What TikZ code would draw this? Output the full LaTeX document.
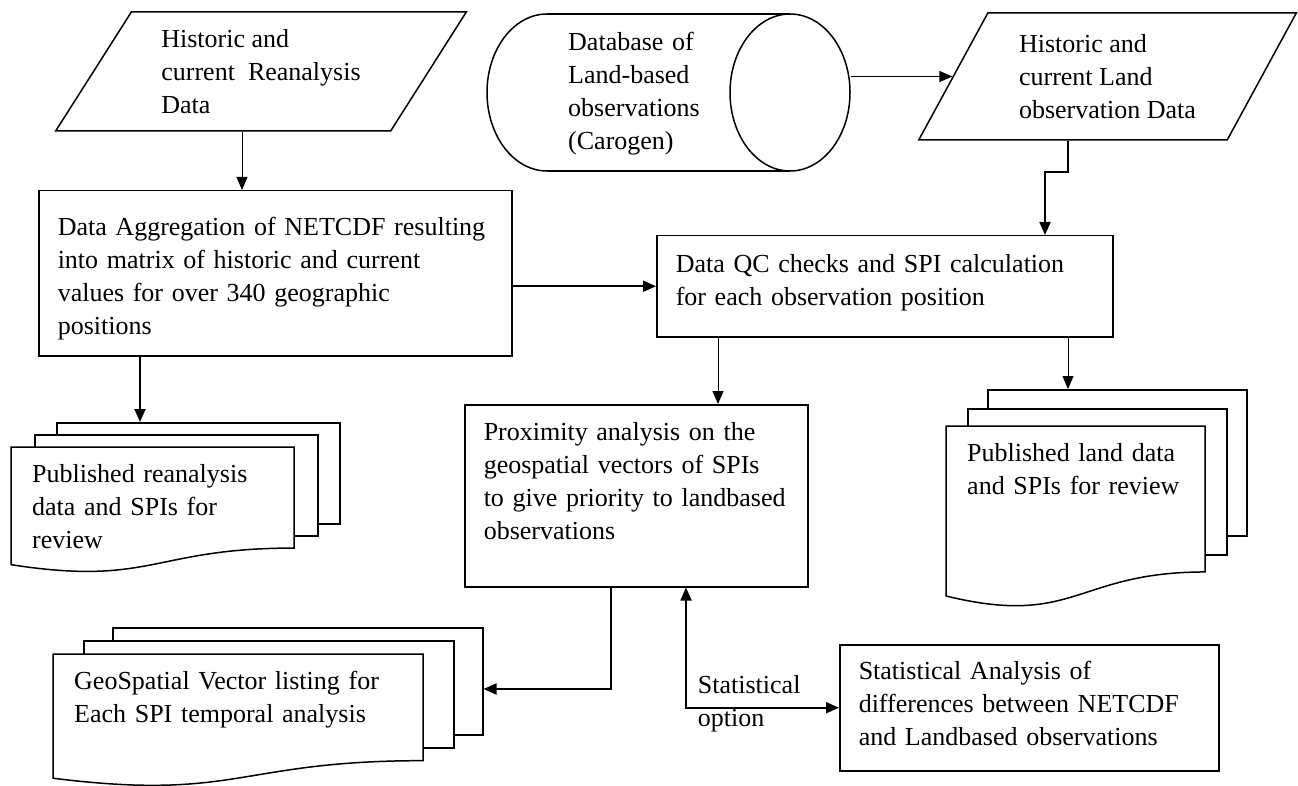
\documentclass[tikz,border=0pt]{standalone}
\usepackage{fontspec}
\setmainfont{Liberation Serif}
\usetikzlibrary{shapes.geometric,arrows.meta}
\newcommand{\fs}{\fontsize{26pt}{33pt}\selectfont}
%front sheet of a document stack: left, top, width, height
\newcommand{\docfront}[4]{%
	\draw[line width=1.5pt, fill=white] (#1,#2) -- (#1+#3,#2) -- (#1+#3,#2+0.802*#4)
	.. controls (#1+0.5*#3,#2+0.802*#4) and (#1+0.5*#3,#2+1.1075*#4) .. (#1,#2+0.934*#4) -- cycle;}
\tikzset{
	proc/.style={draw, line width=1.5pt, anchor=north west, align=left, inner xsep=19pt, text height=18pt},
	inout/.style={draw, line width=1.5pt, trapezium, trapezium stretches=true, inner sep=0pt, align=left},
	page/.style={draw, fill=white, line width=1.5pt, anchor=north west, inner sep=0pt},
	doctext/.style={anchor=north west, align=left, inner xsep=21pt, inner ysep=17pt, text height=18pt},
	arr/.style={-{Triangle[length=13pt,width=11pt]}, line width=1pt},
	arrb/.style={arr, line width=1.8pt},
}
\begin{document}
\begin{tikzpicture}[x=1pt, y=-1pt, every node/.style={font=\fs}]
	\useasboundingbox (0,0) rectangle (1298,786);
	%%%nodes
	%inputs
	\node[inout, trapezium left angle=55.4, trapezium right angle=124.6, minimum width=412pt, minimum height=119pt] at (261,71.5) (p1) {Historic and\\current\ \ Reanalysis\\Data};
	\node[inout, trapezium left angle=58.8, trapezium right angle=121.2, minimum width=379pt, minimum height=127pt] at (1107.5,76.5) (p2) {Historic and\\current Land\\observation Data};
	%database drum
	\draw[line width=1.5pt, fill=white] (547,92.5) ellipse [x radius=60, y radius=78.5];
	\fill[white] (547,14) rectangle (790,171);
	\draw[line width=1.5pt] (547,14) -- (790,14) (547,171) -- (790,171);
	\node[draw, line width=1.5pt, ellipse, inner sep=0pt, minimum width=120pt, minimum height=157pt] at (790,92.5) (drum) {};
	\node[anchor=north west, align=left, inner sep=0pt, text height=18pt, text width=150pt] at (568,32) (dbtext) {Database of\\Land-based\\observations\\(Carogen)};
	%process boxes
	\node[proc, inner ysep=27pt, text width=435pt, text depth=93pt] at (38,190) (agg) {Data Aggregation of NETCDF resulting\\into matrix of historic and current\\values for over 340 geographic\\positions};
	\node[proc, inner ysep=19pt, text width=418pt, text depth=45pt] at (656,235) (qc) {Data QC checks and SPI calculation\\for each observation position};
	\node[proc, inner ysep=18pt, text width=305pt, text depth=128pt] at (464,404) (prox) {Proximity analysis on the\\geospatial vectors of SPIs\\to give priority to landbased\\observations};
	\node[proc, inner ysep=17pt, text width=341pt, text depth=74pt] at (839,644) (stats) {Statistical Analysis of\\differences between NETCDF\\and Landbased observations};
	%document stacks
	\node[page, minimum width=283pt, minimum height=101pt] at (56,422) (rean3) {};
	\node[page, minimum width=283pt, minimum height=101pt] at (34,434) (rean2) {};
	\docfront{11}{447}{283}{126}
	\node[doctext, text width=260pt] at (11,447) (rean1) {Published reanalysis\\data and SPIs for\\review};
	\node[page, minimum width=259pt, minimum height=146pt] at (987,389) (land3) {};
	\node[page, minimum width=259pt, minimum height=146pt] at (967,408) (land2) {};
	\docfront{946}{426}{259}{182}
	\node[doctext, text width=240pt] at (946,426) (land1) {Published land data\\and SPIs for review};
	\node[page, minimum width=370pt, minimum height=107pt] at (112,627) (geo3) {};
	\node[page, minimum width=370pt, minimum height=107pt] at (83,640) (geo2) {};
	\docfront{53}{654}{370}{133}
	\node[doctext, text width=345pt] at (53,654) (geo1) {GeoSpatial Vector listing for\\Each SPI temporal analysis};
	%%%links
	\draw[arr] (242,0 |- p1.south) -- (242,0 |- agg.north);
	\draw[arr] (drum.east |- p2.west) -- (p2.west);
	\draw[arrb] (1068,0 |- p2.south) -- ++(0,31) -| (1045,0 |- qc.north);
	\draw[arrb] (agg.east |- qc.west) -- (qc.west);
	\draw[arr] (718,0 |- qc.south) -- (718,0 |- prox.north);
	\draw[arr] (1068,0 |- qc.south) -- (1068,0 |- land3.north);
	\draw[arrb] (140,0 |- agg.south) -- (140,0 |- rean3.north);
	\draw[arrb] (611,0 |- prox.south) |- (geo3.east |- 0,689);
	%statistical option
	\draw[arrb, {Triangle[length=13pt,width=11pt]}-{Triangle[length=13pt,width=11pt]}] (686,0 |- prox.south) |- (stats.west)
		node[pos=0.5, anchor=west, xshift=11pt, yshift=4.5pt, align=left, inner sep=0pt, text width=120pt] (statlbl) {Statistical\\option};
\end{tikzpicture}
\end{document}
